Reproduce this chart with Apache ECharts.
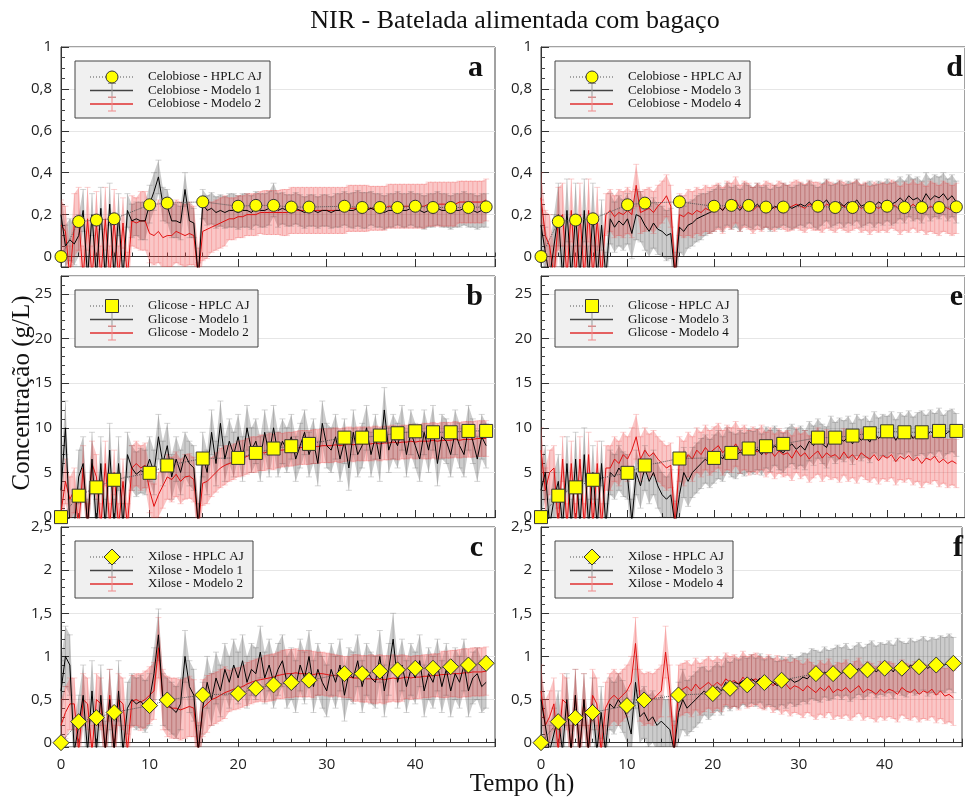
<!DOCTYPE html>
<html><head><meta charset="utf-8">
<script src="https://cdn.jsdelivr.net/npm/echarts@6/dist/echarts.min.js"></script>
<style>html,body{margin:0;padding:0;background:#fff}#c{width:965px;height:800px}</style>
</head><body><div id="c"></div>
<script>
// ---- time axes ----
const T = [0,0.5,1,1.5,2,2.5,3,3.5,4,4.5,5,5.5,6,6.5,7,7.5,8,8.5,9,9.5,
10,10.5,11,11.5,12,12.5,13,13.5,14,14.5,15,15.5,16,16.5,17,17.5,18,18.5,19,19.5,
20,20.5,21,21.5,22,22.5,23,23.5,24,24.5,25,25.5,26,26.5,27,27.5,28,28.5,29,29.5,
30,30.5,31,31.5,32,32.5,33,33.5,34,34.5,35,35.5,36,36.5,37,37.5,38,38.5,39,39.5,
40,40.5,41,41.5,42,42.5,43,43.5,44,44.5,45,45.5,46,46.5,47,47.5,48];
const T_HPLC = [0,2,4,6,10,12,16,20,22,24,26,28,32,34,36,38,40,42,44,46,48];

// ---- HPLC AJ ----
const HPLC_CEL = [0,0.167,0.174,0.18,0.247,0.255,0.261,0.24,0.244,0.244,0.236,0.236,0.24,0.234,0.234,0.234,0.24,0.234,0.234,0.234,0.237];
const HPLC_GLI = [0,2.4,3.33,4.18,4.96,5.78,6.56,6.63,7.19,7.68,7.94,8.2,8.9,8.9,9.13,9.39,9.61,9.5,9.5,9.65,9.65];
const HPLC_XIL = [0,0.244,0.29,0.35,0.43,0.495,0.553,0.569,0.63,0.67,0.697,0.724,0.80,0.80,0.83,0.844,0.863,0.863,0.88,0.90,0.92];

// ---- Celobiose (a: Modelo 1 / 2) ----
const CEL_M1 = [0.20,0.05,0.08,0.06,0.10,0.22,-0.10,0.20,-0.10,0.23,
-0.10,0.25,-0.10,0.20,-0.10,0.22,0.17,0.18,0.17,0.17,
0.25,0.31,0.38,0.25,0.24,0.17,0.17,0.16,0.32,0.17,
0.16,-0.10,0.25,0.22,0.23,0.21,0.22,0.21,0.22,0.22,
0.21,0.22,0.22,0.21,0.23,0.22,0.22,0.23,0.27,0.22,
0.23,0.22,0.22,0.23,0.22,0.21,0.22,0.22,0.21,0.22,
0.22,0.21,0.22,0.22,0.23,0.22,0.22,0.23,0.22,0.22,
0.23,0.22,0.22,0.21,0.22,0.22,0.23,0.22,0.22,0.23,
0.22,0.22,0.21,0.22,0.22,0.23,0.22,0.22,0.21,0.22,
0.22,0.23,0.22,0.22,0.21,0.22,0.22];
const CEL_M2 = [0.15,0.12,-0.10,0.15,0.18,-0.10,0.18,-0.10,0.16,-0.10,
0.18,-0.10,0.17,-0.10,0.16,-0.10,0.17,0.16,0.17,0.17,
0.11,0.10,0.12,0.09,0.10,0.10,0.12,0.11,0.10,0.11,
0.10,-0.10,0.12,0.13,0.14,0.15,0.16,0.17,0.18,0.18,
0.19,0.19,0.20,0.20,0.20,0.21,0.21,0.21,0.21,0.21,
0.21,0.21,0.22,0.22,0.22,0.22,0.22,0.22,0.22,0.22,
0.22,0.22,0.22,0.22,0.22,0.23,0.23,0.23,0.23,0.23,
0.23,0.23,0.23,0.23,0.24,0.24,0.24,0.24,0.24,0.24,
0.24,0.24,0.24,0.25,0.25,0.25,0.25,0.25,0.25,0.25,
0.26,0.26,0.26,0.26,0.26,0.26,0.27];
// ---- Celobiose (d: Modelo 3 / 4) ----
const CEL_M3 = [0.15,0.02,-0.10,0.05,0.20,-0.10,0.22,-0.10,0.20,-0.10,
0.22,-0.10,0.20,-0.10,0.15,-0.10,0.18,0.14,0.17,0.15,
0.18,0.11,0.20,0.19,0.15,0.12,0.16,0.13,0.12,0.10,
0.11,-0.10,0.14,0.12,0.15,0.16,0.18,0.19,0.20,0.21,
0.22,0.24,0.22,0.25,0.23,0.24,0.22,0.25,0.24,0.23,
0.25,0.23,0.24,0.22,0.24,0.23,0.25,0.24,0.23,0.24,
0.25,0.24,0.26,0.24,0.23,0.25,0.27,0.24,0.25,0.26,
0.24,0.26,0.25,0.27,0.24,0.25,0.26,0.24,0.26,0.25,
0.27,0.25,0.26,0.28,0.26,0.29,0.27,0.28,0.26,0.30,
0.27,0.29,0.28,0.30,0.27,0.29,0.26];
const CEL_M4 = [0.28,0.10,0.05,-0.10,0.18,0.20,-0.10,0.22,-0.10,0.20,
-0.10,0.22,-0.10,0.18,-0.10,0.20,0.22,0.19,0.21,0.20,
0.22,0.20,0.34,0.21,0.22,0.23,0.21,0.24,0.26,0.29,
0.24,-0.10,0.20,0.19,0.21,0.20,0.22,0.21,0.23,0.22,
0.23,0.24,0.22,0.25,0.24,0.27,0.23,0.25,0.24,0.22,
0.24,0.23,0.25,0.24,0.23,0.25,0.24,0.23,0.24,0.25,
0.24,0.23,0.25,0.24,0.24,0.23,0.25,0.24,0.23,0.25,
0.24,0.23,0.24,0.25,0.23,0.24,0.22,0.24,0.23,0.24,
0.23,0.25,0.24,0.22,0.24,0.23,0.25,0.23,0.24,0.22,
0.24,0.23,0.22,0.24,0.23,0.22,0.23];

// ---- Glicose (b: Modelo 1 / 2) ----
const GLI_M1 = [3.0,10.0,-1.0,-1.0,4.5,6.0,-1.0,6.5,-1.0,6.0,
-1.0,7.5,-1.0,6.0,-1.0,7.0,5.5,4.8,5.2,5.0,
6.5,5.0,9.0,6.0,8.0,4.5,6.5,5.0,7.0,6.0,
5.5,-1.0,7.0,5.0,9.5,6.0,10.5,6.5,8.5,7.0,
9.0,6.5,10.0,7.5,8.5,6.5,9.5,7.0,10.0,7.0,
8.5,7.5,9.0,6.5,8.0,9.5,7.0,8.5,6.0,10.5,
8.0,7.5,9.0,6.5,8.5,5.5,9.5,7.0,8.0,10.0,
7.0,9.0,6.5,12.0,7.5,9.0,8.0,10.0,7.0,9.5,
8.0,6.5,9.5,7.5,10.0,6.0,9.0,8.5,7.0,9.5,
8.0,7.0,10.0,8.5,6.5,9.0,8.0];
const GLI_M2 = [0.5,4.0,2.0,3.0,-1.0,5.5,-1.0,6.0,4.5,-1.0,
6.0,-1.0,5.0,-1.0,4.0,-1.0,5.5,6.0,5.5,5.8,
3.0,1.2,2.5,3.5,4.5,4.2,4.8,4.0,4.5,4.6,
4.2,-1.0,3.8,4.0,4.5,5.0,5.5,5.8,6.0,6.2,
6.5,6.6,6.8,7.0,7.0,7.2,7.2,7.4,7.3,7.5,
7.5,7.6,7.6,7.7,7.8,7.8,7.8,7.9,7.9,8.0,
8.0,8.0,8.1,8.0,8.1,8.2,8.1,8.2,8.2,8.2,
8.2,8.3,8.2,8.3,8.3,8.4,8.3,8.4,8.4,8.5,
8.4,8.5,8.5,8.5,8.6,8.5,8.6,8.6,8.6,8.7,
8.6,8.7,8.7,8.7,8.8,8.8,8.8];
// ---- Glicose (e: Modelo 3 / 4) ----
const GLI_M3 = [3.0,5.0,-1.0,2.0,4.0,-1.0,6.0,-1.0,6.5,-1.0,
7.0,-1.0,5.0,-1.0,6.0,-1.0,5.0,4.5,5.5,4.8,
4.5,-0.5,5.0,3.5,5.5,4.0,5.0,3.5,2.5,2.0,
2.5,-1.0,2.5,5.0,4.0,5.0,5.5,6.0,6.5,6.0,
6.5,7.0,6.5,7.5,7.0,6.8,7.3,7.0,7.5,7.2,
7.6,7.0,7.8,7.4,8.0,7.5,7.2,7.8,8.2,7.6,
8.0,7.5,8.5,8.0,8.8,8.2,7.8,9.0,8.3,8.8,
8.5,9.0,8.2,9.2,8.6,9.0,8.4,9.5,8.8,9.2,
9.0,9.5,8.6,9.4,9.0,9.6,8.8,9.3,9.5,9.0,
9.6,9.2,9.8,9.0,9.5,9.7,9.2];
const GLI_M4 = [7.5,3.0,5.0,5.5,-1.0,6.5,-1.0,6.0,-1.0,6.5,
-1.0,7.0,-1.0,6.0,-1.0,5.5,5.5,6.5,6.0,7.0,
6.5,7.5,9.0,6.5,7.5,6.8,7.2,6.5,6.0,5.5,
5.8,-1.0,6.5,6.0,7.0,6.5,7.5,7.0,7.8,7.2,
7.6,8.0,7.2,7.8,7.5,8.2,7.4,7.8,7.2,7.6,
7.3,7.8,7.0,7.5,6.8,7.4,7.0,7.2,6.6,7.5,
6.8,7.2,6.5,7.0,7.4,6.6,7.2,6.8,7.0,6.5,
7.3,6.6,7.0,6.4,7.2,6.8,6.5,7.0,6.3,6.9,
6.6,7.0,6.2,6.8,6.5,6.9,6.3,6.7,6.0,6.6,
6.4,6.8,6.1,6.5,6.0,6.3,6.0];

// ---- Xilose (c: Modelo 1 / 2) ----
const XIL_M1 = [0.6,1.0,0.9,-0.1,0.2,0.55,-0.1,0.6,-0.1,0.55,
-0.1,0.5,-0.1,0.6,-0.1,0.4,0.5,0.45,0.48,0.42,
0.5,0.8,1.25,0.5,0.45,0.4,0.35,0.45,1.0,0.65,
0.55,-0.1,0.4,0.7,0.5,0.75,0.6,0.85,0.7,0.9,
0.75,0.95,0.7,0.85,0.8,1.05,0.75,0.9,0.7,0.85,
0.95,0.7,0.8,0.65,0.9,0.75,1.0,0.65,0.85,0.7,
0.6,0.85,0.7,0.9,0.55,0.8,0.75,0.95,0.65,0.85,
0.75,0.7,1.0,0.6,0.85,1.2,0.7,0.9,0.65,0.85,
0.75,0.95,0.6,0.8,0.7,0.9,0.65,0.85,0.6,0.8,
0.7,0.9,0.6,0.75,0.8,0.65,0.7];
const XIL_M2 = [0.2,0.35,0.45,0.45,-0.1,0.5,0.45,-0.1,0.5,0.45,
-0.1,0.55,-0.1,0.5,0.45,-0.1,0.48,0.5,0.47,0.5,
0.55,0.6,1.1,0.5,0.42,0.4,0.4,0.38,0.4,0.42,
0.4,-0.1,0.4,0.45,0.5,0.52,0.55,0.58,0.6,0.62,
0.63,0.65,0.68,0.7,0.72,0.73,0.74,0.75,0.76,0.78,
0.79,0.8,0.8,0.81,0.8,0.8,0.8,0.79,0.8,0.8,
0.79,0.78,0.78,0.77,0.76,0.76,0.75,0.75,0.74,0.74,
0.74,0.73,0.74,0.73,0.74,0.75,0.74,0.75,0.76,0.75,
0.76,0.76,0.77,0.77,0.78,0.78,0.79,0.79,0.8,0.8,
0.8,0.81,0.81,0.82,0.82,0.82,0.83];
// ---- Xilose (f: Modelo 3 / 4) ----
const XIL_M3 = [0.5,0.2,-0.1,0.1,0.3,-0.1,0.5,-0.1,0.55,-0.1,
0.5,-0.1,0.45,-0.1,0.35,-0.1,0.45,0.4,0.5,0.42,
0.3,0.1,0.7,0.3,0.35,0.25,0.3,0.2,0.25,0.2,
0.15,-0.1,0.35,0.5,0.4,0.45,0.5,0.55,0.6,0.55,
0.6,0.65,0.6,0.7,0.65,0.7,0.68,0.72,0.7,0.74,
0.7,0.75,0.68,0.72,0.7,0.66,0.72,0.68,0.74,0.7,
0.72,0.76,0.74,0.8,0.78,0.76,0.82,0.78,0.8,0.84,
0.8,0.85,0.78,0.82,0.86,0.8,0.84,0.88,0.82,0.86,
0.84,0.88,0.82,0.9,0.86,0.84,0.9,0.86,0.88,0.92,
0.86,0.9,0.88,0.92,0.9,0.94,0.9];
const XIL_M4 = [0.6,0.2,0.3,0.45,-0.1,0.5,0.45,-0.1,0.55,-0.1,
0.5,-0.1,0.55,0.45,-0.1,0.4,0.5,0.55,0.5,0.55,
0.6,0.7,1.15,0.55,0.5,0.52,0.5,0.55,0.6,1.05,
0.6,-0.1,0.6,0.62,0.65,0.6,0.68,0.62,0.66,0.7,
0.65,0.7,0.66,0.74,0.7,0.72,0.68,0.76,0.7,0.72,
0.74,0.7,0.68,0.72,0.66,0.7,0.64,0.68,0.62,0.66,
0.64,0.6,0.66,0.62,0.58,0.64,0.6,0.66,0.58,0.62,
0.6,0.64,0.58,0.62,0.66,0.58,0.62,0.6,0.56,0.62,
0.58,0.62,0.6,0.56,0.64,0.6,0.58,0.62,0.56,0.6,
0.58,0.62,0.55,0.6,0.54,0.56,0.52];

// ---- error half-widths, one per 2 h (t = 0,2,...,48) ----
const CEL_E1 = [0.1,0.1,0.1,0.1,0.08,0.09,0.08,0.08,0.07,0.075,0.08,0.08,0.08,0.075,0.075,0.075,0.08,0.085,0.08,0.08,0.08,0.08,0.08,0.08,0.08];
const CEL_E2 = [0.12,0.15,0.15,0.15,0.12,0.14,0.15,0.15,0.14,0.12,0.1,0.1,0.105,0.11,0.11,0.11,0.11,0.11,0.105,0.105,0.105,0.105,0.105,0.1,0.1];
const CEL_E3 = [0.12,0.15,0.15,0.15,0.12,0.12,0.12,0.12,0.12,0.11,0.1,0.1,0.1,0.1,0.1,0.1,0.1,0.1,0.1,0.1,0.1,0.1,0.1,0.1,0.1];
const CEL_E4 = [0.12,0.15,0.15,0.15,0.1,0.11,0.1,0.1,0.1,0.11,0.11,0.11,0.11,0.11,0.11,0.115,0.115,0.115,0.115,0.115,0.115,0.115,0.115,0.12,0.12];
const GLI_E1 = [3,3,3,3,2.5,2.5,2.5,2.5,2.5,2.5,2.5,2.5,2.5,2.5,2.5,2.5,2.5,2.5,2.5,2.5,2.5,2.5,2.5,2.5,2.5];
const GLI_E2 = [2.5,2.5,2.5,2.5,2.5,2.5,2.5,2.5,2.5,2.2,2.0,2.0,2.0,1.9,1.9,1.9,1.9,1.9,1.9,1.9,1.9,2.0,2.0,2.0,2.0];
const GLI_E3 = [3,3,3,3,2.5,2.5,2.5,2.5,2.8,2.8,2.7,2.5,2.4,2.3,2.2,2.2,2.2,2.3,2.3,2.3,2.3,2.3,2.4,2.4,2.4];
const GLI_E4 = [2.5,2.5,2.5,2.5,2.5,2.5,2.5,2.5,2.5,2.5,2.5,2.5,2.5,2.5,2.5,2.5,2.6,2.6,2.6,2.6,2.6,2.6,2.7,2.7,2.7];
const XIL_E1 = [0.35,0.35,0.35,0.35,0.3,0.3,0.3,0.3,0.3,0.3,0.3,0.3,0.3,0.3,0.3,0.3,0.3,0.3,0.3,0.3,0.3,0.3,0.3,0.3,0.3];
const XIL_E2 = [0.3,0.3,0.3,0.3,0.3,0.33,0.35,0.35,0.33,0.3,0.24,0.25,0.27,0.28,0.27,0.25,0.24,0.27,0.28,0.27,0.25,0.25,0.27,0.28,0.28];
const XIL_E3 = [0.3,0.3,0.3,0.3,0.3,0.3,0.3,0.3,0.35,0.32,0.28,0.28,0.28,0.28,0.28,0.28,0.29,0.29,0.3,0.3,0.3,0.31,0.31,0.32,0.32];
const XIL_E4 = [0.3,0.3,0.3,0.3,0.3,0.3,0.3,0.3,0.3,0.3,0.3,0.3,0.3,0.3,0.31,0.31,0.31,0.31,0.32,0.32,0.32,0.32,0.32,0.32,0.32];

// ---- panel setup ----
const PANELS = [
  {left:61, top:47, h:220, yMin:-0.05, yMax:1, yLast:1, minor:4, hplc:HPLC_CEL, sym:'circle', size:12,
   k:CEL_M1, ke:CEL_E1, r:CEL_M2, re:CEL_E2, letter:'a', legW:195, xLab:false,
   names:['Celobiose - HPLC AJ','Celobiose - Modelo 1','Celobiose - Modelo 2']},
  {left:61, top:276, h:242, yMin:-0.1, yMax:27, yLast:25, minor:5, hplc:HPLC_GLI, sym:'rect', size:13,
   k:GLI_M1, ke:GLI_E1, r:GLI_M2, re:GLI_E2, letter:'b', legW:183, xLab:false,
   names:['Glicose - HPLC AJ','Glicose - Modelo 1','Glicose - Modelo 2']},
  {left:61, top:527, h:220, yMin:-0.05, yMax:2.5, yLast:2.5, minor:5, hplc:HPLC_XIL, sym:'diamond', size:16,
   k:XIL_M1, ke:XIL_E1, r:XIL_M2, re:XIL_E2, letter:'c', legW:178, xLab:true,
   names:['Xilose - HPLC AJ','Xilose - Modelo 1','Xilose - Modelo 2']},
  {left:541, top:47, h:220, yMin:-0.05, yMax:1, yLast:1, minor:4, hplc:HPLC_CEL, sym:'circle', size:12,
   k:CEL_M3, ke:CEL_E3, r:CEL_M4, re:CEL_E4, letter:'d', legW:195, xLab:false,
   names:['Celobiose - HPLC AJ','Celobiose - Modelo 3','Celobiose - Modelo 4']},
  {left:541, top:276, h:242, yMin:-0.1, yMax:27, yLast:25, minor:5, hplc:HPLC_GLI, sym:'rect', size:13,
   k:GLI_M3, ke:GLI_E3, r:GLI_M4, re:GLI_E4, letter:'e', legW:183, xLab:false,
   names:['Glicose - HPLC AJ','Glicose - Modelo 3','Glicose - Modelo 4']},
  {left:541, top:527, h:220, yMin:-0.05, yMax:2.5, yLast:2.5, minor:5, hplc:HPLC_XIL, sym:'diamond', size:16,
   k:XIL_M3, ke:XIL_E3, r:XIL_M4, re:XIL_E4, letter:'f', legW:178, xLab:true,
   names:['Xilose - HPLC AJ','Xilose - Modelo 3','Xilose - Modelo 4']}
];
const W = 434;
const SERIF = "'Liberation Serif', 'Times New Roman', serif";
const SANS = "'Open Sans', 'Noto Sans', sans-serif";
const BLACK_FILL = 'rgba(0,0,0,0.2)', RED_FILL = 'rgba(240,70,70,0.3)';
const BLACK_BAR = 'rgba(70,70,70,0.22)', RED_BAR = 'rgba(235,50,50,0.22)';

function errAt(e, t) { return e[Math.round(t / 2)]; }
function clipOf(cs) { return {type:'rect', shape:{x:cs.x, y:cs.y, width:cs.width, height:cs.height}}; }

function bandSeries(g, mean, err, fill) {
  return {
    type:'custom', xAxisIndex:2*g, yAxisIndex:g, silent:true, clip:true,
    data:[[0, 0]], encode:{x:0, y:1},
    renderItem: function (params, api) {
      const up = [], lo = [];
      for (let i = 0; i < T.length; i++) {
        const e = errAt(err, T[i]);
        up.push(api.coord([T[i], mean[i] + e]));
        lo.push(api.coord([T[i], mean[i] - e]));
      }
      return {type:'polygon', shape:{points: up.concat(lo.reverse())},
              style:{fill: fill}, clipPath: clipOf(params.coordSys)};
    }
  };
}
function barSeries(g, mean, err, stroke) {
  return {
    type:'custom', xAxisIndex:2*g, yAxisIndex:g, silent:true, clip:true,
    data: T.map((t, i) => [t, mean[i], errAt(err, t)]), encode:{x:0, y:1},
    renderItem: function (params, api) {
      const t = api.value(0), m = api.value(1), e = api.value(2);
      const a = api.coord([t, m + e]), b = api.coord([t, m - e]);
      const st = {stroke: stroke, lineWidth: 1};
      return {type:'group', clipPath: clipOf(params.coordSys), children:[
        {type:'line', shape:{x1:a[0], y1:a[1], x2:b[0], y2:b[1]}, style:st},
        {type:'line', shape:{x1:a[0]-3, y1:a[1], x2:a[0]+3, y2:a[1]}, style:st},
        {type:'line', shape:{x1:b[0]-3, y1:b[1], x2:b[0]+3, y2:b[1]}, style:st}
      ]};
    }
  };
}
function lineSeries(g, mean, color, name) {
  return {type:'line', name:name, xAxisIndex:2*g, yAxisIndex:g, data:T.map((t, i) => [t, mean[i]]),
          showSymbol:false, symbol:'none', clip:true, silent:true, animation:false,
          lineStyle:{color:color, width:1}};
}
function yFmt(last) {
  return function (v) {
    if (v < -1e-9 || v > last + 1e-9) return '';
    return String(Math.round(v * 100) / 100).replace('.', ',');
  };
}

const grids = [], xAxes = [], yAxes = [], series = [], graphics = [];
PANELS.forEach((p, g) => {
  grids.push({left:p.left, top:p.top, width:W, height:p.h, show:true, borderColor:'#444', borderWidth:1, containLabel:false});
  xAxes.push({gridIndex:g, type:'value', position:'bottom', min:0, max:49, interval:2,
    axisLine:{show:true, lineStyle:{color:'#333'}}, axisTick:{inside:true, length:4, lineStyle:{color:'#333'}},
    axisLabel:{show:false}, splitLine:{show:false}});
  xAxes.push({gridIndex:g, type:'value', position:'bottom', min:0, max:49, interval:10,
    axisLine:{show:false}, axisTick:{inside:true, length:8, lineStyle:{color:'#333'}},
    axisLabel:{show:p.xLab, margin:10, fontSize:15, color:'#222', fontFamily:SANS,
      formatter: v => (v % 10 === 0 && v <= 40) ? String(v) : ''},
    splitLine:{show:false}});
  yAxes.push({gridIndex:g, type:'value', min:p.yMin, max:p.yMax, splitNumber:5,
    axisLine:{show:true, lineStyle:{color:'#333'}},
    axisTick:{inside:true, length:8, lineStyle:{color:'#333'}},
    minorTick:{show:true, splitNumber:p.minor, length:4, lineStyle:{color:'#444'}},
    splitLine:{show:true, lineStyle:{color:'#e6e6e6', width:1}},
    axisLabel:{margin:9, fontSize:15, color:'#222', fontFamily:SANS, formatter:yFmt(p.yLast)}});

  series.push(bandSeries(g, p.k, p.ke, BLACK_FILL));
  series.push(bandSeries(g, p.r, p.re, RED_FILL));
  series.push(barSeries(g, p.k, p.ke, BLACK_BAR));
  series.push(barSeries(g, p.r, p.re, RED_BAR));
  series.push(lineSeries(g, p.r, '#e01010', p.names[2]));
  series.push(lineSeries(g, p.k, '#000000', p.names[1]));
  series.push({type:'line', name:p.names[0], xAxisIndex:2*g, yAxisIndex:g,
    data:T_HPLC.map((t, i) => [t, p.hplc[i]]), clip:true, animation:false,
    symbol:p.sym, symbolSize:p.size, showAllSymbol:true,
    lineStyle:{color:'#555', width:1, type:'dotted'},
    itemStyle:{color:'#ffff00', borderColor:'#333', borderWidth:1}, z:5});

  // panel letter
  graphics.push({type:'text', z:100, x:p.left + W - 12, y:p.top + 21,
    style:{text:p.letter, font:'bold 30px ' + SERIF, fill:'#111', textAlign:'right', textVerticalAlign:'middle'}});
  // legend box
  const bx = p.left + 14, by = p.top + 14;
  graphics.push({type:'rect', z:100, shape:{x:bx, y:by, width:p.legW, height:57},
    style:{fill:'#f0f0f0', stroke:'#444', lineWidth:1}});
  const rows = [by + 16, by + 29.5, by + 43];
  const mx = bx + 37;
  graphics.push({type:'line', z:101, shape:{x1:bx + 15, y1:rows[0], x2:bx + 58, y2:rows[0]},
    style:{stroke:'#555', lineWidth:1, lineDash:[1, 2]}});
  if (p.sym === 'circle') {
    graphics.push({type:'circle', z:102, shape:{cx:mx, cy:rows[0], r:6}, style:{fill:'#ffff00', stroke:'#333', lineWidth:1}});
  } else if (p.sym === 'rect') {
    graphics.push({type:'rect', z:102, shape:{x:mx - 6.5, y:rows[0] - 6.5, width:13, height:13}, style:{fill:'#ffff00', stroke:'#333', lineWidth:1}});
  } else {
    graphics.push({type:'polygon', z:102, shape:{points:[[mx, rows[0] - 8], [mx + 8, rows[0]], [mx, rows[0] + 8], [mx - 8, rows[0]]]},
      style:{fill:'#ffff00', stroke:'#333', lineWidth:1}});
  }
  [[rows[1], '#444', '#999'], [rows[2], '#e03030', '#f08a8a']].forEach(([yy, lc, ec]) => {
    graphics.push({type:'line', z:101, shape:{x1:bx + 15, y1:yy, x2:bx + 58, y2:yy}, style:{stroke:lc, lineWidth:1.3}});
    graphics.push({type:'line', z:101, shape:{x1:mx, y1:yy - 7, x2:mx, y2:yy + 7}, style:{stroke:ec, lineWidth:1}});
    graphics.push({type:'line', z:101, shape:{x1:mx - 4, y1:yy - 7, x2:mx + 4, y2:yy - 7}, style:{stroke:ec, lineWidth:1}});
    graphics.push({type:'line', z:101, shape:{x1:mx - 4, y1:yy + 7, x2:mx + 4, y2:yy + 7}, style:{stroke:ec, lineWidth:1}});
  });
  p.names.forEach((n, i) => {
    graphics.push({type:'text', z:102, x:bx + 73, y:rows[i],
      style:{text:n, font:'13px ' + SERIF, fill:'#111', textVerticalAlign:'middle'}});
  });
});

graphics.push({type:'text', z:100, x:515, y:21,
  style:{text:'NIR - Batelada alimentada com bagaço', font:'26px ' + SERIF, fill:'#111', textAlign:'center', textVerticalAlign:'middle'}});
graphics.push({type:'text', z:100, x:522, y:784,
  style:{text:'Tempo (h)', font:'25px ' + SERIF, fill:'#111', textAlign:'center', textVerticalAlign:'middle'}});
graphics.push({type:'text', z:100, x:22, y:393, rotation:Math.PI / 2,
  style:{text:'Concentração (g/L)', font:'25px ' + SERIF, fill:'#111', textAlign:'center', textVerticalAlign:'middle'}});

const option = {
  animation:false,
  backgroundColor:'#ffffff',
  grid:grids, xAxis:xAxes, yAxis:yAxes, series:series, graphic:graphics
};
const chart = echarts.init(document.getElementById('c'), null, {renderer:'canvas'});
chart.setOption(option);
</script></body></html>
